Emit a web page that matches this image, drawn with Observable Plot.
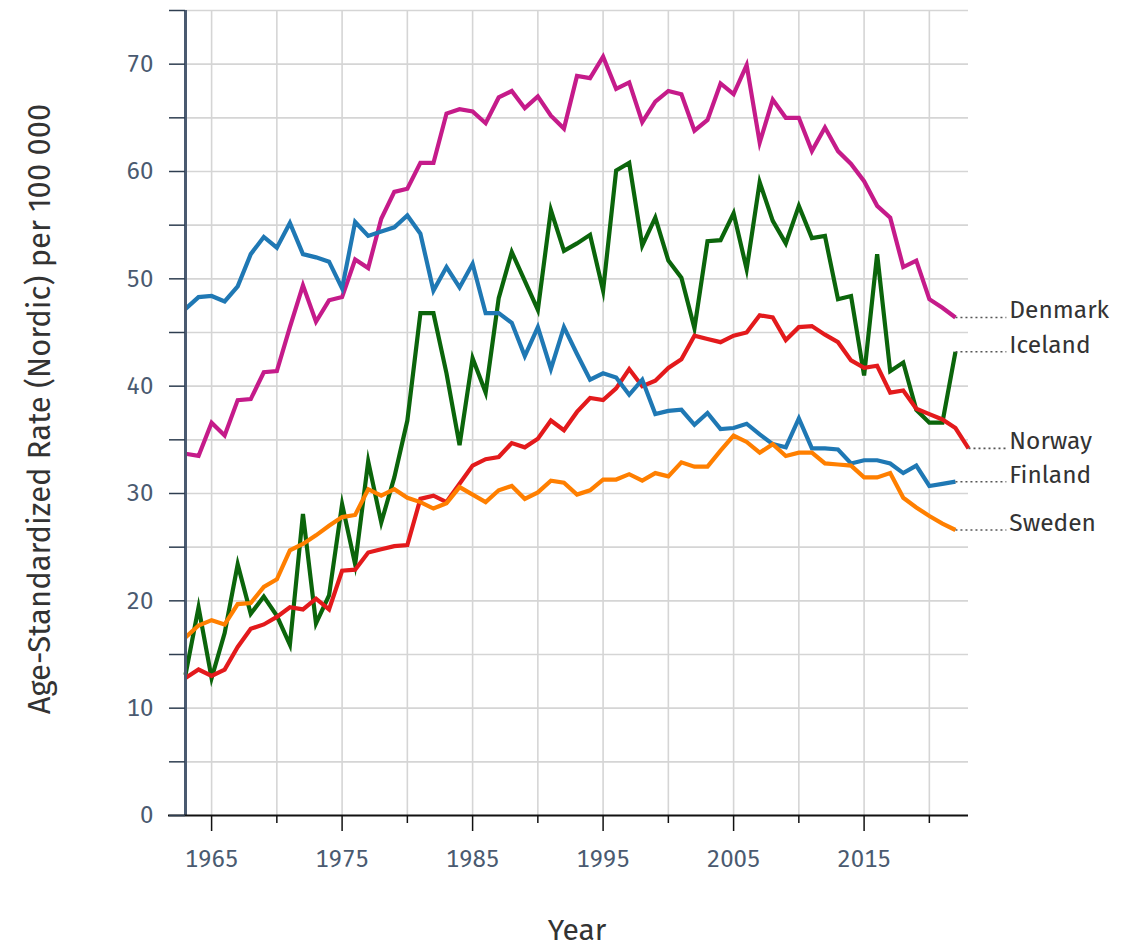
<!DOCTYPE html>
<html>
<head>
<meta charset="utf-8">
<script src="https://cdn.jsdelivr.net/npm/d3@7"></script>
<script src="https://cdn.jsdelivr.net/npm/@observablehq/plot@0.6"></script>
<style>
  html, body { margin: 0; padding: 0; background: #ffffff; }
  #chart svg { display: block; }
</style>
</head>
<body>
<div id="chart"></div>
<script>
// ---- Data ----
const countries = ["Denmark", "Iceland", "Norway", "Finland", "Sweden"];
const colors = ["#c51b8a", "#0b650b", "#e31a1c", "#1f78b4", "#ff7f00"];
const startYear = 1963;

// 1963 - 2022
const denmark = [
  33.7, 33.5, 36.6, 35.4, 38.7, 38.8, 41.3, 41.4, 45.5, 49.4,
  46.0, 48.0, 48.3, 51.8, 51.0, 55.6, 58.1, 58.4, 60.8, 60.8,
  65.4, 65.8, 65.6, 64.5, 66.9, 67.5, 65.9, 67.0, 65.2, 64.0,
  68.9, 68.7, 70.7, 67.7, 68.3, 64.6, 66.5, 67.5, 67.2, 63.8,
  64.8, 68.2, 67.2, 69.9, 62.7, 66.7, 65.0, 65.0, 61.9, 64.1,
  61.9, 60.7, 59.1, 56.8, 55.7, 51.1, 51.7, 48.1, 47.3, 46.4
];
// 1963 - 2022
const iceland = [
  13.1, 19.4, 12.8, 17.0, 23.4, 18.8, 20.4, 18.6, 15.9, 28.1,
  17.9, 20.5, 29.0, 23.4, 33.0, 27.3, 31.5, 36.8, 46.8, 46.8,
  41.2, 34.5, 42.6, 39.4, 48.2, 52.5, 49.8, 47.1, 56.4, 52.6,
  53.3, 54.1, 48.9, 60.1, 60.8, 53.1, 55.7, 51.7, 50.1, 45.4,
  53.5, 53.6, 56.1, 50.9, 59.0, 55.4, 53.3, 56.8, 53.8, 54.0,
  48.1, 48.4, 41.0, 52.3, 41.4, 42.2, 37.8, 36.6, 36.6, 43.2
];
// 1963 - 2023
const norway = [
  12.8, 13.6, 13.0, 13.6, 15.7, 17.4, 17.8, 18.5, 19.4, 19.2,
  20.2, 19.2, 22.8, 22.9, 24.5, 24.8, 25.1, 25.2, 29.5, 29.8,
  29.2, 30.9, 32.6, 33.2, 33.4, 34.7, 34.3, 35.1, 36.8, 35.9,
  37.6, 38.9, 38.7, 39.8, 41.6, 40.0, 40.5, 41.7, 42.5, 44.7,
  44.4, 44.1, 44.7, 45.0, 46.6, 46.4, 44.3, 45.5, 45.6, 44.8,
  44.1, 42.4, 41.7, 41.9, 39.4, 39.6, 37.9, 37.4, 36.9, 36.1,
  34.2
];
// 1963 - 2022
const finland = [
  47.2, 48.3, 48.4, 47.9, 49.3, 52.3, 53.9, 52.9, 55.2, 52.3,
  52.0, 51.6, 49.1, 55.3, 54.0, 54.4, 54.8, 55.9, 54.2, 48.9,
  51.1, 49.2, 51.4, 46.8, 46.8, 45.9, 42.8, 45.5, 41.6, 45.5,
  43.0, 40.6, 41.2, 40.8, 39.2, 40.6, 37.4, 37.7, 37.8, 36.4,
  37.5, 36.0, 36.1, 36.5, 35.5, 34.6, 34.3, 37.0, 34.2, 34.2,
  34.1, 32.8, 33.1, 33.1, 32.8, 31.9, 32.6, 30.7, 30.9, 31.1
];
// 1963 - 2022
const sweden = [
  16.6, 17.7, 18.2, 17.8, 19.7, 19.8, 21.3, 22.0, 24.7, 25.3,
  26.1, 27.0, 27.8, 28.0, 30.4, 29.8, 30.4, 29.6, 29.2, 28.6,
  29.1, 30.6, 29.9, 29.2, 30.3, 30.7, 29.5, 30.1, 31.2, 31.0,
  29.9, 30.3, 31.3, 31.3, 31.8, 31.2, 31.9, 31.6, 32.9, 32.5,
  32.5, 34.0, 35.4, 34.8, 33.8, 34.6, 33.5, 33.8, 33.8, 32.8,
  32.7, 32.6, 31.5, 31.5, 31.9, 29.6, 28.7, 27.9, 27.2, 26.6
];

const xMajorTicks = [1965, 1975, 1985, 1995, 2005, 2015];
const xMinorTicks = [1970, 1980, 1990, 2000, 2010, 2020];
const xGridTicks = [1965, 1970, 1975, 1980, 1985, 1990, 1995, 2000, 2005, 2010, 2015, 2020];
const yTicks = [0, 5, 10, 15, 20, 25, 30, 35, 40, 45, 50, 55, 60, 65, 70, 75];
const labelYear = 2025.9; // where the dotted leader lines end and names begin

const yTitle = "Age-Standardized Rate (Nordic) per 100 000";
const xTitle = "Year";

// ---- Build tidy table ----
const seriesByCountry = {
  Denmark: denmark, Iceland: iceland, Norway: norway, Finland: finland, Sweden: sweden
};
const rows = countries.flatMap(c =>
  seriesByCountry[c].map((v, i) => ({country: c, year: startYear + i, value: v}))
);
const ends = countries.map(c => {
  const s = seriesByCountry[c];
  return {country: c, year: startYear + s.length - 1, value: s[s.length - 1], labelYear};
});

const font = "'Fira Sans', Lato, 'Open Sans', sans-serif";

const chart = Plot.plot({
  width: 1128,
  height: 951,
  marginLeft: 185,
  marginRight: 160,
  marginTop: 10,
  marginBottom: 136,
  x: {domain: [1963, 2023]},
  y: {domain: [0, 75]},
  color: {domain: countries, range: colors},
  style: {fontFamily: font, fontSize: "24px", color: "#4a5a70", background: "#ffffff"},
  marks: [
    Plot.gridX(xGridTicks, {stroke: "#d5d5d5", strokeOpacity: 1, strokeWidth: 1.6}),
    Plot.gridY(yTicks.filter(d => d > 0), {stroke: "#d5d5d5", strokeOpacity: 1, strokeWidth: 1.6}),
    Plot.line(rows, {
      x: "year", y: "value", z: "country", stroke: "country",
      strokeWidth: 4.2, strokeLinejoin: "miter", strokeMiterlimit: 6, strokeLinecap: "butt"
    }),
    Plot.link(ends, {
      x1: "year", x2: "labelYear", y1: "value", y2: "value",
      stroke: "#555555", strokeWidth: 1.6, strokeDasharray: "2,3"
    }),
    Plot.text(ends, {
      x: "labelYear", y: "value", text: "country",
      textAnchor: "start", lineAnchor: "bottom", dx: 3, dy: 1,
      fill: "#333333", fontSize: 24.5
    }),
    Plot.ruleX([1963], {stroke: "#4a5a70", strokeWidth: 3}),
    Plot.ruleY([0], {stroke: "#111111", strokeWidth: 2, insetLeft: -17}),
    Plot.axisY({
      ticks: yTicks, tickSize: 16, tickPadding: 16,
      tickFormat: d => (d % 10 === 0 ? String(d) : ""),
      label: null, stroke: "#2f3e50", strokeWidth: 1.5, fill: "#4a5a70", fontSize: 24
    }),
    Plot.axisX({
      ticks: xMajorTicks, tickSize: 16, tickPadding: 18,
      tickFormat: d => String(d), label: null,
      stroke: "#111111", strokeWidth: 1.5, fill: "#4a5a70", fontSize: 24
    }),
    Plot.axisX({
      ticks: xMinorTicks, tickSize: 8, tickFormat: () => "", label: null,
      stroke: "#111111", strokeWidth: 1.5
    }),
    Plot.text([yTitle], {
      text: d => d, frameAnchor: "left", dx: -145, dy: -4, rotate: -90,
      textAnchor: "middle", lineAnchor: "middle", fill: "#333333", fontSize: 31
    }),
    Plot.text([xTitle], {
      text: d => d, frameAnchor: "bottom", dy: 115,
      textAnchor: "middle", lineAnchor: "middle", fill: "#333333", fontSize: 30
    })
  ]
});

document.getElementById("chart").appendChild(chart);
</script>
</body>
</html>
